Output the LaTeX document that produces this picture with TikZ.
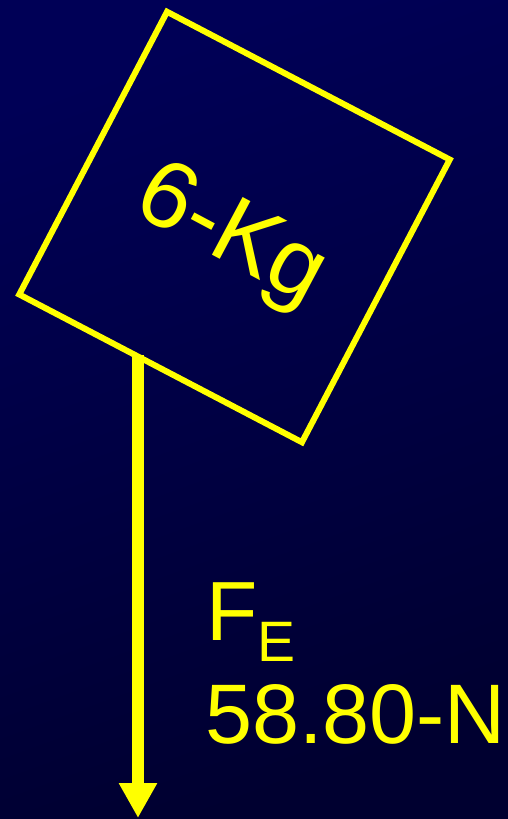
\documentclass[tikz,border=0pt]{standalone}
\usepackage{fontspec}
\setmainfont{Liberation Sans}
\usetikzlibrary{arrows.meta}
\definecolor{bgtop}{RGB}{0,0,86}
\definecolor{bgbot}{RGB}{0,0,48}
\definecolor{ylw}{RGB}{255,255,0}
\tikzset{
  box/.style={draw=ylw, line width=6pt, minimum width=319pt, minimum height=319pt, inner sep=0pt, rotate=-27.6},
  lbl/.style={text=ylw, inner sep=0pt, font=\fontsize{80}{96}\selectfont},
  force/.style={draw=ylw, line width=12pt, -{Triangle[length=35pt,width=36pt]}}
}
\begin{document}
\begin{tikzpicture}[x=1pt,y=-1pt]
  \shade[shading=axis, top color=bgtop, bottom color=bgbot, shading angle=20] (0,0) rectangle (508,819);
  \useasboundingbox (0,0) rectangle (508,819);
  \node[box] (block) at (234.5,227) {};
  \node[lbl, font=\fontsize{95}{114}\selectfont, rotate=-28] (mass) at (230,238) {6-Kg};
  \coordinate (start) at (138,355);
  \coordinate (tip) at (138,818);
  \draw[force] (start) -- (tip);
  \node[lbl, font=\fontsize{84}{100}\selectfont, anchor=base west] (fe) at (206,640) {F\raisebox{-0.25em}{\fontsize{57}{68}\selectfont E}};
  \node[lbl, font=\fontsize{84.5}{100}\selectfont, anchor=base west] (val) at (205,743) {58.80-N};
\end{tikzpicture}
\end{document}
